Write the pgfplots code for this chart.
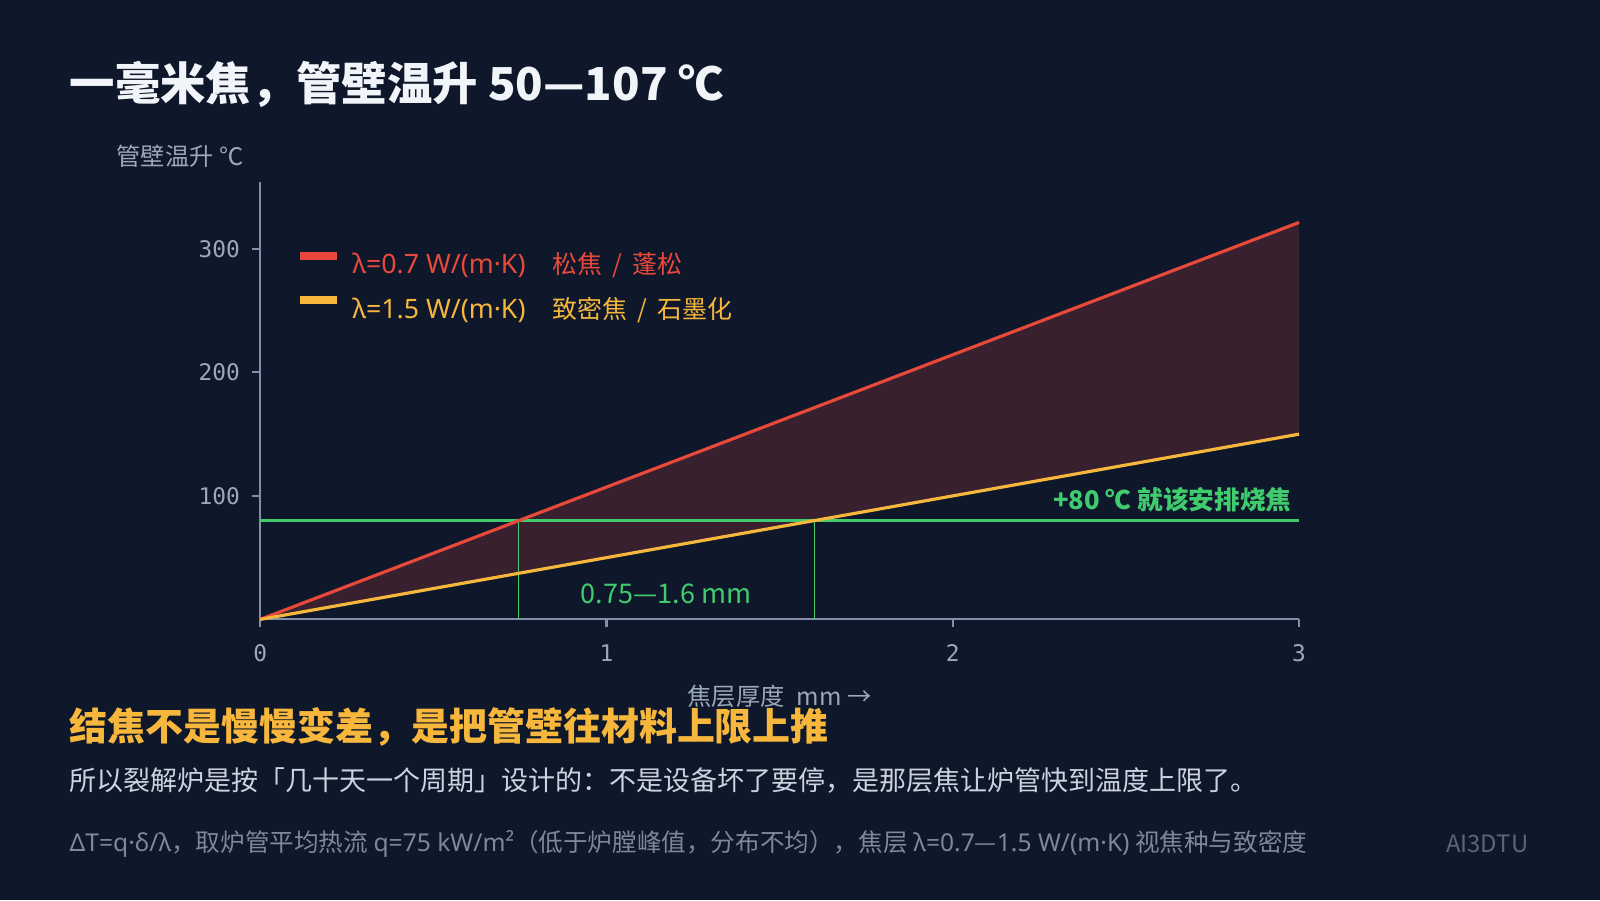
\documentclass[border=0pt]{standalone}
\usepackage{fontspec}
\setmainfont{Noto Sans CJK SC}
\setmonofont{DejaVu Sans Mono}
\newfontfamily\nsans{Noto Sans}
\usepackage{pgfplots}
\pgfplotsset{compat=1.18}

\definecolor{bg}{HTML}{0F172A}
\definecolor{titlec}{HTML}{F1F5F9}
\definecolor{axisc}{HTML}{8190A8}
\definecolor{tickc}{HTML}{9AA8BC}
\definecolor{cred}{HTML}{E8493B}
\definecolor{cyel}{HTML}{F6B73C}
\definecolor{cgreen}{HTML}{3FCB6E}
\definecolor{fillc}{HTML}{38202E}
\definecolor{bodyc}{HTML}{CBD3DE}
\definecolor{notec}{HTML}{7D889B}
\definecolor{markc}{HTML}{5B6579}

\begin{document}
\begin{tikzpicture}[x=1cm,y=1cm]
\fill[bg] (0,0) rectangle (16,9);

% titles and notes
\node[anchor=west, inner sep=0pt, text=titlec, font=\fontsize{12.9}{14}\selectfont\bfseries]
  at (0.69,8.16) {一毫米焦，管壁温升 50—107 ℃};
\node[anchor=west, inner sep=0pt, text=cyel, font=\fontsize{10.8}{12}\selectfont\bfseries]
  at (0.69,1.73) {结焦不是慢慢变差，是把管壁往材料上限上推};
\node[anchor=west, inner sep=0pt, text=bodyc, font=\fontsize{7.68}{9}\selectfont]
  at (0.69,1.19) {所以裂解炉是按「几十天一个周期」设计的：不是设备坏了要停，是那层焦让炉管快到温度上限了。};
\node[anchor=west, inner sep=0pt, text=notec, font=\fontsize{7.0}{8}\selectfont]
  at (0.69,0.56) {{\nsans ΔT=q·δ/λ}，取炉管平均热流 {\nsans q=75 kW/m²}（低于炉膛峰值，分布不均），焦层 {\nsans λ=0.7}—{\nsans 1.5 W/(m·K)} 视焦种与致密度};
\node[anchor=east, inner sep=0pt, text=markc, font=\fontsize{6.8}{8}\selectfont]
  at (15.29,0.56) {AI3DTU};

\begin{axis}[
    at={(2.602cm,2.806cm)}, anchor=south west,
    scale only axis, width=10.388cm, height=4.378cm,
    xmin=0, xmax=3, ymin=0, ymax=354.5,
    clip=false,
    axis x line*=bottom, axis y line*=left,
    axis line style={-, draw=axisc, line width=0.6pt},
    every outer x axis line/.append style={-},
    every outer y axis line/.append style={-},
    xtick={0,1,2,3}, ytick={100,200,300},
    tick align=outside, major tick length=0.08cm,
    tick style={draw=axisc, line width=0.6pt},
    /pgf/number format/assume math mode=true,
    ticklabel style={text=tickc, font=\fontsize{6.5}{8}\ttfamily},
    xticklabel style={yshift=-0.05cm},
    xlabel={焦层厚度\hspace{0.5em}mm →},
    xlabel style={at={(rel axis cs:0.5,0)}, anchor=center, yshift=-0.766cm,
      text=tickc, font=\fontsize{6.9}{8}\selectfont},
    ylabel={管壁温升 ℃},
    ylabel style={at={(rel axis cs:0,1)}, rotate=-90, anchor=west,
      xshift=-1.56cm, yshift=0.256cm, text=tickc, font=\fontsize{6.9}{8}\selectfont},
    legend style={at={(rel axis cs:0.034,0.855)}, anchor=north west,
      draw=none, fill=none, inner sep=0pt, row sep=0.04cm,
      font=\fontsize{7.1}{8}\selectfont, cells={anchor=west}},
    legend image code/.code={\draw[line width=0.08cm] (0cm,0.1cm) -- (0.37cm,0.1cm);},
]

\addplot[fill=fillc, draw=none, forget plot] coordinates {(0,0) (3,321.43) (3,150)} -- cycle;

\addplot[cgreen, line width=0.75pt, forget plot] coordinates {(0,80) (3,80)};
\addplot[cgreen, line width=0.4pt, forget plot] coordinates {(0.7467,0) (0.7467,80)};
\addplot[cgreen, line width=0.4pt, forget plot] coordinates {(1.6,0) (1.6,80)};

\addplot[cred, line width=0.9pt] coordinates {(0,0) (1,107.14) (2,214.29) (3,321.43)};
\addlegendentry{\hspace{0.04cm}\textcolor{cred}{{\nsans\fontsize{7.6}{8}\selectfont λ=0.7 W/(m·K)}\hspace{1.1em}松焦 \,/\, 蓬松}}
\addplot[cyel, line width=0.9pt] coordinates {(0,0) (1,50) (2,100) (3,150)};
\addlegendentry{\hspace{0.04cm}\textcolor{cyel}{{\nsans\fontsize{7.6}{8}\selectfont λ=1.5 W/(m·K)}\hspace{1.1em}致密焦 \,/\, 石墨化}}

\node[anchor=east, inner sep=0pt, text=cgreen, font=\fontsize{7.3}{8}\selectfont\bfseries]
  at (axis cs:2.98,97) {+80 ℃ 就该安排烧焦};
\node[inner sep=0pt, text=cgreen, font=\fontsize{7.7}{9}\selectfont]
  at (axis cs:1.172,20.6) {0.75—1.6 mm};
\end{axis}

\pgfresetboundingbox
\useasboundingbox (0,0) rectangle (16,9);
\end{tikzpicture}
\end{document}
